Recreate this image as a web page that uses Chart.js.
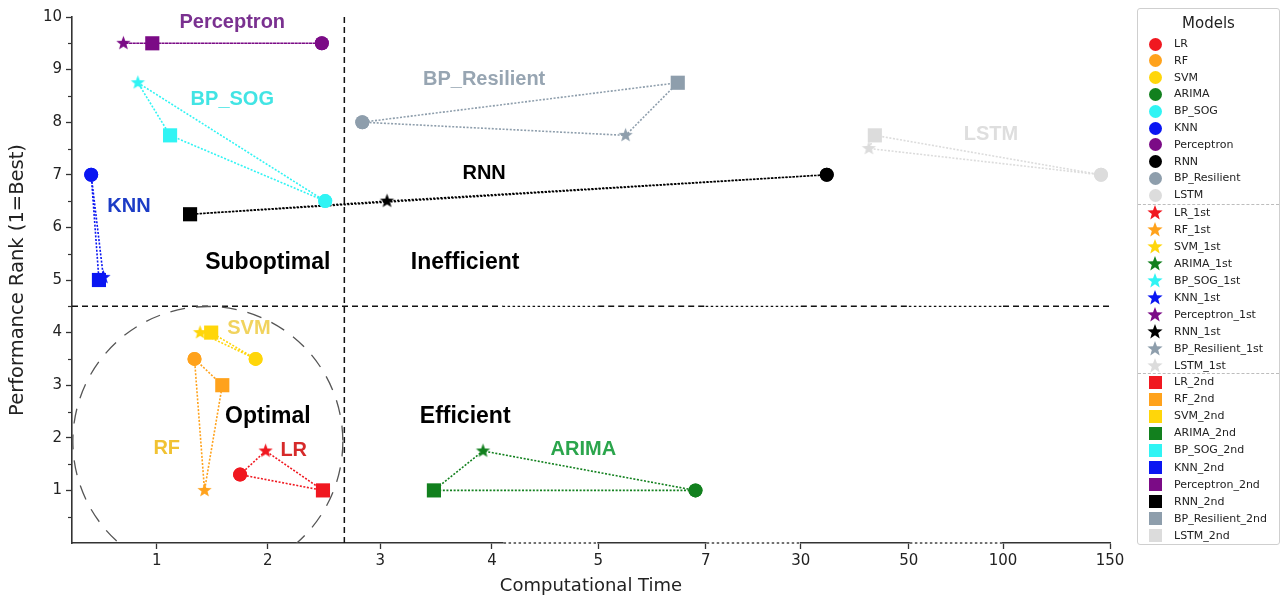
<!DOCTYPE html>
<html>
<head>
<meta charset="utf-8">
<script src="https://cdn.jsdelivr.net/npm/chart.js@4.4.1/dist/chart.umd.min.js"></script>
<style>
  html, body { margin: 0; padding: 0; background: #fff; }
  #wrap { position: relative; width: 1284px; height: 597px; }
  #legend {
    position: absolute; left: 1137px; top: 8px; width: 143px; height: 537px;
    border: 1px solid #cfcfcf; border-radius: 3px; box-sizing: border-box;
    font-family: 'DejaVu Sans', sans-serif; font-size: 11px; color: #222; background: #fff;
  }
  #legend .title { position: absolute; left: 0; right: 0; top: 5px; text-align: center; font-size: 15px; }
  #legend .row { position: absolute; left: 0; height: 16px; line-height: 16px; white-space: nowrap; }
  #legend .row span { position: absolute; left: 36px; top: 0; }
  #legend .icon { position: absolute; }
  #legend .sep { position: absolute; left: 0; right: 0; border-top: 1px dashed #bdbdbd; }
</style>
</head>
<body>
<div id="wrap">
  <canvas id="chart" width="1284" height="597"></canvas>
  <div id="legend"></div>
</div>
<script>
// 模型与颜色
const models = ['LR', 'RF', 'SVM', 'ARIMA', 'BP_SOG', 'KNN', 'Perceptron', 'RNN', 'BP_Resilient', 'LSTM'];
const modelColors = ['#f01820', '#ffa21c', '#ffd60a', '#12801e', '#30f4f4', '#0a16f2', '#7b0b86', '#000000', '#8e9eac', '#dcdcdc'];
const labelColors = ['#d62a2a', '#f1c232', '#f1d35e', '#2ba54c', '#42e4e4', '#1c3cc6', '#7a3190', '#000000', '#97a5b2', '#dedede'];

// 基础运行 (圆点)
const baseTime = [1.75, 1.34, 1.89, 6.81, 2.51, 0.41, 2.48, 34.8, 2.84, 145.8];
const baseRank = [1.3, 3.5, 3.5, 1, 6.5, 7, 9.5, 7, 8, 7];
// 第一次 (星形)
const firstTime = [1.98, 1.43, 1.39, 3.92, 0.83, 0.52, 0.70, 3.06, 5.51, 42.6];
const firstRank = [1.75, 1, 4, 1.75, 8.75, 5.05, 9.5, 6.5, 7.75, 7.5];
// 第二次 (方块)
const secondTime = [2.49, 1.59, 1.49, 3.48, 1.12, 0.48, 0.96, 1.30, 6.48, 43.7];
const secondRank = [1, 3, 4, 1, 7.75, 5, 9.5, 6.25, 8.75, 7.75];

// x 轴刻度 (非均匀时间轴)
const timeTicks = [1, 2, 3, 4, 5, 7, 30, 50, 100, 150];
const tickSlots = [0, 1.049, 2.111, 3.165, 4.168, 5.183, 6.081, 7.101, 7.99, 9.0];
// 轴线上的点线区段 (时间)
const dottedSpans = [[4.1, 5], [7, 30], [50, 100]];

// 分区阈值
const timeSplit = 2.68;
const rankSplit = 4.5;

// 标注文字位置
const modelLabelTime = [2.23, 1.09, 1.83, 4.86, 1.68, 0.75, 1.68, 3.93, 3.93, 93.6];
const modelLabelRank = [1.76, 1.80, 4.07, 1.78, 8.44, 6.40, 9.90, 7.03, 8.82, 7.77];
const zoneNames = ['Suboptimal', 'Inefficient', 'Optimal', 'Efficient'];
const zoneTime = [2.0, 3.76, 2.0, 3.76];
const zoneRank = [5.33, 5.33, 2.41, 2.41];

function timeToSlot(t) {
    const n = timeTicks.length;
    let i = 0;
    if (t >= timeTicks[n - 1]) i = n - 2;
    else if (t > timeTicks[0]) { while (t > timeTicks[i + 1]) i++; }
    const f = (t - timeTicks[i]) / (timeTicks[i + 1] - timeTicks[i]);
    return tickSlots[i] + f * (tickSlots[i + 1] - tickSlots[i]);
}

function starImage(color, r) {
    const c = document.createElement('canvas');
    const s = Math.ceil(r * 2 + 2);
    c.width = c.height = s;
    const g = c.getContext('2d');
    g.fillStyle = color;
    g.beginPath();
    for (let k = 0; k < 10; k++) {
        const rad = k % 2 ? r * 0.42 : r;
        const a = -Math.PI / 2 + k * Math.PI / 5;
        g.lineTo(s / 2 + rad * Math.cos(a), s / 2 + rad * Math.sin(a));
    }
    g.closePath();
    g.fill();
    return c;
}

const datasets = models.map((m, i) => {
    const p0 = { x: timeToSlot(baseTime[i]), y: baseRank[i] };
    const p1 = { x: timeToSlot(firstTime[i]), y: firstRank[i] };
    const p2 = { x: timeToSlot(secondTime[i]), y: secondRank[i] };
    return {
        label: m,
        data: [p0, p1, p2, p0],
        showLine: true,
        borderColor: modelColors[i],
        borderWidth: 1.6,
        borderDash: [2, 1.6],
        backgroundColor: modelColors[i],
        pointBackgroundColor: modelColors[i],
        pointBorderWidth: 0,
        pointStyle: ['circle', starImage(modelColors[i], 7.5), 'rect', 'circle'],
        pointRadius: [7, 8, 10, 7]
    };
});

// 分区线、圆圈和文字
const annotatePlugin = {
    id: 'annotate',
    beforeDatasetsDraw(chart) {
        const { ctx, chartArea: a, scales: { x, y } } = chart;
        const spanPx = dottedSpans.map(s => s.map(t => x.getPixelForValue(timeToSlot(t))));
        ctx.save();
        ctx.strokeStyle = '#111';
        ctx.lineWidth = 1.5;
        ctx.setLineDash([6, 4]);
        const vx = x.getPixelForValue(timeToSlot(timeSplit));
        ctx.beginPath(); ctx.moveTo(vx, a.top); ctx.lineTo(vx, a.bottom); ctx.stroke();

        // 水平分界线: 虚线与点线交替
        const hy = y.getPixelForValue(rankSplit);
        let from = a.left;
        spanPx.forEach(([p, q]) => {
            ctx.setLineDash([6, 4]);
            ctx.beginPath(); ctx.moveTo(from, hy); ctx.lineTo(p, hy); ctx.stroke();
            ctx.setLineDash([2.5, 2.5]);
            ctx.lineWidth = 1.2;
            ctx.beginPath(); ctx.moveTo(p, hy); ctx.lineTo(q, hy); ctx.stroke();
            ctx.lineWidth = 1.5;
            from = q;
        });
        ctx.setLineDash([6, 4]);
        ctx.beginPath(); ctx.moveTo(from, hy); ctx.lineTo(a.right, hy); ctx.stroke();

        // 最优区域虚线圆
        ctx.beginPath();
        ctx.rect(a.left, a.top, a.right - a.left, a.bottom - a.top);
        ctx.clip();
        ctx.strokeStyle = '#555';
        ctx.lineWidth = 1.3;
        ctx.setLineDash([15, 11]);
        ctx.beginPath();
        ctx.arc(x.getPixelForValue(timeToSlot(1.46)), y.getPixelForValue(1.93), 135, 0, Math.PI * 2);
        ctx.stroke();
        ctx.restore();
    },
    afterDatasetsDraw(chart) {
        const { ctx, scales: { x, y } } = chart;
        ctx.save();
        ctx.textAlign = 'center';
        ctx.textBaseline = 'middle';
        ctx.font = 'bold 20px "Liberation Sans", Arial, sans-serif';
        models.forEach((m, i) => {
            ctx.fillStyle = labelColors[i];
            ctx.fillText(m, x.getPixelForValue(timeToSlot(modelLabelTime[i])), y.getPixelForValue(modelLabelRank[i]));
        });
        ctx.font = 'bold 23px "Liberation Sans", Arial, sans-serif';
        ctx.fillStyle = '#000';
        zoneNames.forEach((z, i) => {
            ctx.fillText(z, x.getPixelForValue(timeToSlot(zoneTime[i])), y.getPixelForValue(zoneRank[i]));
        });
        ctx.restore();
    },
    afterDraw(chart) {
        const { ctx, chartArea: a, scales: { x, y } } = chart;
        ctx.save();
        // y 轴次刻度
        ctx.strokeStyle = '#333';
        ctx.lineWidth = 1.2;
        for (let v = 0.5; v < 10; v += 1) {
            const py = Math.round(y.getPixelForValue(v)) + 0.5;
            ctx.beginPath(); ctx.moveTo(a.left - 4, py); ctx.lineTo(a.left, py); ctx.stroke();
        }
        // x 轴上的点线区段
        dottedSpans.forEach(s => {
            const p = x.getPixelForValue(timeToSlot(s[0]));
            const q = x.getPixelForValue(timeToSlot(s[1]));
            ctx.fillStyle = '#fff';
            ctx.fillRect(p + 1, a.bottom - 1.5, q - p - 2, 3);
            ctx.strokeStyle = '#444';
            ctx.lineWidth = 1.3;
            ctx.setLineDash([2.5, 2.5]);
            ctx.beginPath(); ctx.moveTo(p + 1, a.bottom); ctx.lineTo(q - 1, a.bottom); ctx.stroke();
        });
        ctx.restore();
    }
};

new Chart(document.getElementById('chart'), {
    type: 'scatter',
    data: { datasets },
    options: {
        responsive: false,
        animation: false,
        layout: { padding: { top: 17, right: 174, bottom: 0, left: 6 } },
        plugins: { legend: { display: false }, tooltip: { enabled: false } },
        scales: {
            x: {
                type: 'linear', min: -0.8, max: 9,
                afterBuildTicks: s => { s.ticks = tickSlots.map(v => ({ value: v })); },
                afterFit: s => { s.height = 54; },
                ticks: {
                    callback: (v, i) => timeTicks[i],
                    color: '#222', font: { family: 'DejaVu Sans', size: 15 },
                    padding: 3, maxRotation: 0, autoSkip: false
                },
                grid: { drawOnChartArea: false, tickLength: 6, color: '#333', tickWidth: 1.3 },
                border: { color: '#333', width: 1.6 },
                title: { display: true, text: 'Computational Time', color: '#222',
                         font: { family: 'DejaVu Sans', size: 18 }, padding: { top: 2, bottom: 0 } }
            },
            y: {
                min: 0, max: 10,
                afterFit: s => { s.width = 66; },
                ticks: {
                    stepSize: 1,
                    callback: v => v === 0 ? '' : v,
                    color: '#222', font: { family: 'DejaVu Sans', size: 15 }, padding: 4
                },
                grid: {
                    drawOnChartArea: false, tickLength: 6, tickWidth: 1.3,
                    tickColor: c => c.tick && c.tick.value === 0 ? 'rgba(0,0,0,0)' : '#333'
                },
                border: { color: '#333', width: 1.6 },
                title: { display: true, text: 'Performance Rank (1=Best)', color: '#222',
                         font: { family: 'DejaVu Sans', size: 19.5 }, padding: { top: 0, bottom: 3 } }
            }
        }
    },
    plugins: [annotatePlugin]
});

// 图例
const legend = document.getElementById('legend');
legend.innerHTML = '<div class="title">Models</div>';
const sectionTop = [35, 204, 373];
const sectionStep = [16.8, 17, 17.1];
const suffix = ['', '_1st', '_2nd'];
[0, 1, 2].forEach(s => {
    models.forEach((m, i) => {
        const row = document.createElement('div');
        row.className = 'row';
        row.style.top = (sectionTop[s] + i * sectionStep[s] - 8) + 'px';
        let icon;
        if (s === 1) {
            icon = starImage(modelColors[i], 8);
            icon.className = 'icon';
            icon.style.left = (17 - icon.width / 2) + 'px';
            icon.style.top = (8 - icon.height / 2) + 'px';
        } else {
            icon = document.createElement('div');
            icon.className = 'icon';
            icon.style.width = '13px'; icon.style.height = '13px';
            icon.style.left = '10.5px'; icon.style.top = '1.5px';
            icon.style.background = modelColors[i];
            if (s === 0) icon.style.borderRadius = '50%';
        }
        row.appendChild(icon);
        const t = document.createElement('span');
        t.textContent = m + suffix[s];
        row.appendChild(t);
        legend.appendChild(row);
    });
});
[195, 364].forEach(top => {
    const sep = document.createElement('div');
    sep.className = 'sep';
    sep.style.top = top + 'px';
    legend.appendChild(sep);
});
</script>
</body>
</html>
